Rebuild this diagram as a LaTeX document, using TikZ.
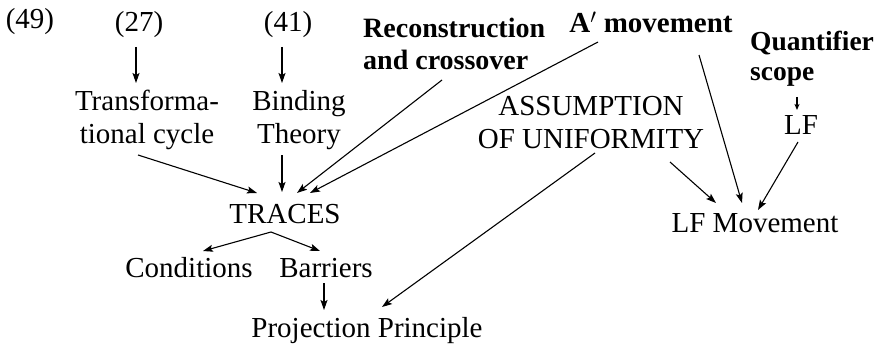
\documentclass[tikz,border=0pt]{standalone}
\usepackage{fontspec}
\setmainfont{Liberation Serif}
\usetikzlibrary{arrows.meta,calc}
\tikzset{
  lbl/.style={inner sep=0pt, anchor=base, font=\fontsize{29}{33}\selectfont, align=center},
  blbl/.style={inner sep=0pt, anchor=base west, font=\fontsize{28}{32}\selectfont\bfseries, align=left},
  arrow/.style={line width=1.1pt, -{Stealth[length=10pt,width=7pt,inset=2pt]}},
  smallarrow/.style={line width=1.1pt, -{Stealth[length=6pt,width=5pt,inset=1.5pt]}}
}
\begin{document}
\begin{tikzpicture}[x=1pt,y=-1pt]
\useasboundingbox (0,0) rectangle (879,345);
% nodes (multi-line nodes are placed by the baseline of their last line)
\node[lbl] (p49) at (30,29) {(49)};
\node[lbl] (p27) at (139,32) {(27)};
\node[lbl] (p41) at (288,32) {(41)};
\node[lbl] (tc) at (147,143) {Transforma-\\tional cycle};
\node[lbl] (bt) at (299,143) {Binding\\Theory};
\node[blbl] (rc) at (363,70) {Reconstruction\\and crossover};
\node[lbl, font=\fontsize{29}{33}\selectfont\bfseries] (am) at (651,33) {A$'$ movement};
\node[blbl, font=\fontsize{27.5}{30}\selectfont\bfseries] (qs) at (750,81) {Quantifier\\scope};
\node[lbl] (lf) at (801,135) {LF};
\node[lbl] (au) at (591,148) {ASSUMPTION\\OF UNIFORMITY};
\node[lbl] (tr) at (285,223) {TRACES};
\node[lbl] (cond) at (189,277) {Conditions};
\node[lbl] (bar) at (326,277) {Barriers};
\node[lbl] (pp) at (367,337) {Projection Principle};
\node[lbl] (lfm) at (755,232) {LF Movement};
% connectors
\draw[arrow] ($(p27.base)+(-3,15)$) -- ($(tc.base)+(-11,-60)$);
\draw[arrow] ($(p41.base)+(-6,15)$) -- ($(bt.base)+(-17,-60)$);
\draw[arrow] ($(tc.base)+(-9,12)$) -- ($(tr.base)+(-28,-30)$);
\draw[arrow] ($(bt.base)+(-17,12)$) -- ($(tr.base)+(-3,-31)$);
\draw[arrow] ($(rc.base west)+(79,10)$) -- ($(tr.base)+(12,-30)$);
\draw[arrow] ($(am.base)+(-53,9)$) -- ($(tr.base)+(25,-30)$);
\draw[arrow] ($(am.base)+(48,22)$) -- ($(lfm.base)+(-13,-29)$);
\draw[arrow] ($(au.base)+(79,14)$) -- ($(lfm.base)+(-39,-29)$);
\draw[arrow] ($(lf.base)+(-3,7)$) -- ($(lfm.base)+(3,-22)$);
\draw[arrow] ($(au.base)+(4,5)$) -- ($(pp.base)+(15,-30)$);
\draw[arrow] ($(tr.base)+(-14,9)$) -- ($(cond.base)+(14,-26)$);
\draw[arrow] ($(tr.base)+(-14,9)$) -- ($(bar.base)+(-6,-26)$);
\draw[arrow] ($(bar.base)+(-2,6)$) -- ($(pp.base)+(-43,-27)$);
\draw[smallarrow] ($(qs.base west)+(47,16)$) -- ($(lf.base)+(-4,-25)$);
\end{tikzpicture}
\end{document}
